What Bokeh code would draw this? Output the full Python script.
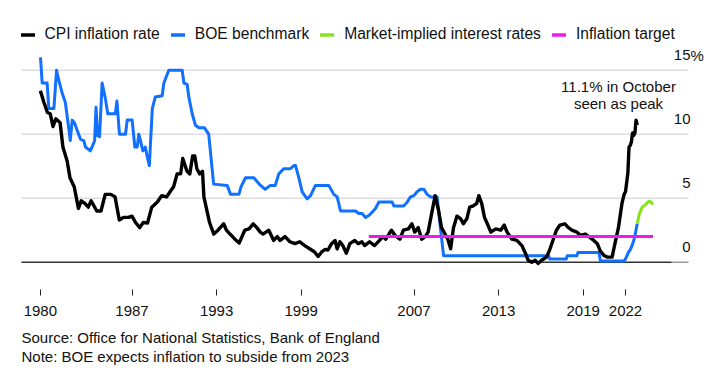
import math
from bokeh.plotting import figure
from bokeh.models import Range1d, FixedTicker, Legend, LegendItem, Title
from bokeh.core.properties import value
from bokeh.embed import file_html
from bokeh.resources import INLINE

# ---------------- data ----------------
cpi_years = [1980.5, 1980.75, 1981.0, 1981.2, 1981.4, 1981.6, 1981.9, 1982.1, 1982.4, 1982.6,
             1982.9, 1983.2, 1983.4, 1983.65, 1983.9, 1984.1, 1984.5, 1984.8, 1985.1, 1985.5,
             1985.8, 1986.1, 1986.4, 1986.75, 1987.0, 1987.25, 1987.55, 1987.8, 1988.1, 1988.4,
             1988.8, 1989.1, 1989.45, 1989.7, 1989.95, 1990.2, 1990.45, 1990.6, 1990.9, 1991.1,
             1991.3, 1991.45, 1991.6, 1991.8, 1992.0, 1992.1, 1992.5, 1992.8, 1993.1, 1993.5,
             1993.7, 1993.95, 1994.3, 1994.6, 1994.8, 1995.0, 1995.3, 1995.6, 1995.85, 1996.1,
             1996.3, 1996.7, 1997.05, 1997.3, 1997.5, 1997.85, 1998.2, 1998.55, 1998.9, 1999.25,
             1999.6, 1999.95, 2000.2, 2000.45, 2000.7, 2000.9, 2001.15, 2001.4, 2001.55, 2001.75,
             2001.95, 2002.2, 2002.45, 2002.8, 2003.05, 2003.3, 2003.5, 2003.85, 2004.2, 2004.55,
             2004.8, 2005.0, 2005.4, 2005.65, 2006.0, 2006.25, 2006.6, 2006.85, 2007.05, 2007.3,
             2007.55, 2007.8, 2008.0, 2008.25, 2008.5, 2008.75, 2008.95, 2009.2, 2009.4, 2009.6,
             2009.8, 2010.05, 2010.3, 2010.5, 2010.75, 2010.95, 2011.2, 2011.45, 2011.6, 2011.8,
             2012.0, 2012.2, 2012.45, 2012.8, 2013.15, 2013.4, 2013.6, 2013.95, 2014.3, 2014.65,
             2014.9, 2015.1, 2015.35, 2015.6, 2015.8, 2016.05, 2016.4, 2016.6, 2016.85, 2017.1,
             2017.35, 2017.7, 2017.95, 2018.2, 2018.55, 2018.8, 2019.15, 2019.4, 2019.75, 2020.0,
             2020.2, 2020.45, 2020.7, 2021.05, 2021.3, 2021.5, 2021.75, 2021.9, 2022.0, 2022.08,
             2022.17, 2022.25, 2022.33, 2022.42, 2022.5, 2022.58, 2022.67, 2022.75, 2022.83]
cpi_values = [13.4, 12.5, 11.7, 11.6, 10.6, 11.2, 10.9, 9.0, 7.9, 6.6,
              5.9, 4.2, 4.8, 4.6, 4.3, 4.8, 4.0, 4.0, 5.3, 5.3,
              5.1, 3.3, 3.5, 3.5, 3.6, 3.1, 2.7, 3.1, 3.05, 4.3,
              4.7, 5.2, 5.1, 5.5, 5.9, 6.9, 6.9, 8.1, 7.1, 6.9,
              8.3, 8.3, 7.3, 6.9, 7.1, 5.1, 3.1, 2.2, 2.5, 3.0,
              2.5, 2.2, 1.8, 1.5, 2.0, 2.5, 2.6, 3.0, 2.7, 2.35,
              2.2, 2.5, 1.7, 2.0, 1.7, 2.0, 1.6, 1.45, 1.6, 1.3,
              1.05, 0.8, 0.45, 0.8, 1.0, 0.95, 1.45, 1.7, 1.05, 1.6,
              1.3, 0.7, 1.45, 1.7, 1.45, 1.6, 1.3, 1.6, 1.3, 1.7,
              2.0, 1.8, 2.5, 2.1, 1.8, 2.5, 2.6, 3.0, 2.35, 2.7,
              1.8, 2.0, 2.35, 3.8, 5.2, 4.0, 2.7, 2.2, 1.8, 1.05,
              2.7, 3.6, 3.4, 3.0, 3.4, 4.3, 4.4, 4.6, 5.2, 4.6,
              3.5, 3.0, 2.35, 2.6, 2.5, 2.9, 2.35, 1.8, 1.7, 1.3,
              0.7, 0.15, 0.0, 0.15, -0.1, 0.15, 0.4, 0.9, 1.7, 2.5,
              2.9, 3.0, 2.7, 2.5, 2.35, 2.1, 2.2, 2.0, 1.7, 1.45,
              0.9, 0.55, 0.4, 0.4, 1.7, 2.7, 4.6, 5.3, 5.5, 6.2,
              7.0, 9.0, 9.1, 9.4, 10.1, 9.9, 10.1, 11.1, 10.7]

boe_years = [1980.51, 1980.63, 1980.98, 1981.10, 1981.46, 1981.65, 1981.81, 1982.05, 1982.27, 1982.51,
             1982.62, 1982.76, 1982.92, 1983.11, 1983.35, 1983.58, 1983.70, 1984.04, 1984.17, 1984.35,
             1984.45, 1984.56, 1984.70, 1984.88, 1985.11, 1985.28, 1985.82, 1985.93, 1986.11, 1986.54,
             1986.66, 1987.01, 1987.20, 1987.37, 1987.48, 1987.60, 1987.77, 1987.94, 1988.07, 1988.23,
             1988.44, 1988.65, 1989.14, 1989.26, 1989.61, 1990.56, 1990.68, 1990.91, 1991.03, 1991.27,
             1991.50, 1991.74, 1992.14, 1992.44, 1992.79, 1993.75, 1993.99, 1994.58, 1994.74, 1995.05,
             1995.64, 1996.11, 1996.45, 1996.81, 1997.16, 1997.41, 1997.76, 1998.23, 1998.48, 1998.60,
             1998.83, 1999.07, 1999.42, 1999.66, 2000.01, 2000.96, 2001.31, 2001.55, 2001.79, 2002.85,
             2003.09, 2003.32, 2003.56, 2003.80, 2004.03, 2004.27, 2004.51, 2005.45, 2005.57, 2006.28,
             2006.52, 2006.75, 2006.99, 2007.22, 2007.46, 2007.70, 2007.93, 2008.17, 2008.64, 2008.87,
             2009.10, 2016.55, 2016.62, 2017.80, 2017.87, 2018.55, 2018.62, 2020.12, 2020.22, 2021.90,
             2022.0, 2022.1, 2022.2, 2022.35, 2022.45, 2022.6, 2022.7, 2022.83]
boe_values = [16.0, 14.0, 14.0, 12.0, 12.0, 15.0, 14.2, 13.2, 12.5, 10.5,
              9.5, 11.1, 10.9, 10.3, 9.6, 9.5, 9.0, 8.7, 9.0, 9.5,
              12.1, 9.9, 9.8, 14.0, 12.8, 11.6, 11.6, 12.6, 10.0, 10.0,
              11.1, 11.1, 9.0, 9.0, 10.0, 9.5, 8.7, 9.0, 8.3, 7.55,
              12.0, 12.9, 13.0, 14.0, 15.0, 15.0, 14.0, 13.9, 12.9, 11.6,
              10.7, 10.5, 10.5, 10.0, 6.1, 6.0, 5.3, 5.3, 5.9, 6.6,
              6.6, 6.0, 5.7, 6.0, 6.0, 6.9, 7.3, 7.3, 7.55, 7.55,
              6.6, 5.5, 4.95, 5.2, 6.0, 6.0, 5.3, 5.1, 4.0, 4.0,
              3.8, 3.8, 3.5, 3.65, 3.9, 4.2, 4.7, 4.7, 4.4, 4.4,
              4.7, 5.1, 5.2, 5.5, 5.7, 5.7, 5.3, 5.1, 5.1, 2.7,
              0.5, 0.5, 0.25, 0.25, 0.5, 0.5, 0.75, 0.75, 0.1, 0.1,
              0.25, 0.5, 0.75, 1.0, 1.25, 1.75, 2.25, 3.0]

mkt_years = [2022.83, 2022.99, 2023.18, 2023.42, 2023.65, 2023.82, 2023.94]
mkt_values = [3.0, 3.8, 4.3, 4.5, 4.75, 4.7, 4.5]

target_years = [2003.8, 2023.95]
target_values = [2.0, 2.0]

x_tick_years = [cpi_years[0], 1987, 1993, 1999, 2007, 2013, 2019, 2022]
x_tick_labels = ["1980", "1987", "1993", "1999", "2007", "2013", "2019", "2022"]
y_ticks = [0, 5, 10, 15]
y_tick_labels = ["0", "5", "10", "15"]
y_unit = "%"

legend_labels = ["CPI inflation rate", "BOE benchmark", "Market-implied interest rates", "Inflation target"]
annotation_lines = ["11.1% in October", "seen as peak"]
source_text = "Source: Office for National Statistics, Bank of England"
note_text = "Note: BOE expects inflation to subside from 2023"

# ---------------- styles / geometry ----------------
C_CPI = "#000000"
C_BOE = "#1170ff"
C_MKT = "#86e31c"
C_TGT = "#ec1aec"
C_TEXT = "#111111"
C_GRID = "#dedede"
FONT = "Liberation Sans"

W, H = 726, 392
PX_YR = 14.1           # pixels per year
X_ANCHOR = 2022.0      # year at x=625
PX_UNIT = 12.8         # pixels per percentage point
FRAME_BOTTOM = 289
ZERO_Y = 261.7


def xyear(px):
    return X_ANCHOR + (px - 625) / PX_YR


x_start, x_end = xyear(0), xyear(W)
y_end = ZERO_Y / PX_UNIT
y_start = -(FRAME_BOTTOM - ZERO_Y) / PX_UNIT

p = figure(width=W, height=H, output_backend="svg", toolbar_location=None,
           x_range=Range1d(x_start, x_end), y_range=Range1d(y_start, y_end),
           min_border_left=0, min_border_right=0, min_border_top=0,
           min_border_bottom=H - FRAME_BOTTOM)
p.outline_line_color = None
p.background_fill_color = "white"
p.border_fill_color = "white"
p.xgrid.visible = False
p.ygrid.visible = False
p.yaxis.visible = False

ax = p.xaxis[0]
ax.ticker = FixedTicker(ticks=x_tick_years)
ax.major_label_overrides = {t: l for t, l in zip(x_tick_years, x_tick_labels)}
ax.axis_line_color = None
ax.major_tick_in = 0
ax.major_tick_out = 6
ax.major_tick_line_color = "#222222"
ax.major_tick_line_width = 1
ax.minor_tick_line_color = None
ax.major_label_text_font = FONT
ax.major_label_text_font_size = "15px"
ax.major_label_text_color = C_TEXT
ax.major_label_standoff = 10

# gridlines (drawn through the data scales)
gx0, gx1, gdark = xyear(21), xyear(688), xyear(671)
grid_vals = y_ticks[1:]
p.segment(x0=[gx0] * len(grid_vals), y0=grid_vals, x1=[gx1] * len(grid_vals), y1=grid_vals,
          line_color=C_GRID, line_width=1.5)
p.segment(x0=[gdark], y0=[y_ticks[0]], x1=[gx1], y1=[y_ticks[0]], line_color="#9a9a9a", line_width=1.5)
p.segment(x0=[gx0], y0=[y_ticks[0]], x1=[gdark], y1=[y_ticks[0]], line_color="#333333", line_width=1.5)

# series
p.line(boe_years, boe_values, line_color=C_BOE, line_width=3, line_join="round")
p.line(cpi_years, cpi_values, line_color=C_CPI, line_width=3.4, line_join="round")
p.line(mkt_years, mkt_values, line_color=C_MKT, line_width=3, line_join="round")
p.line(target_years, target_values, line_color=C_TGT, line_width=3)

# y tick labels (inside plot, above gridlines, right side)
lab_x = xyear(690)
p.text(x=[lab_x] * len(y_ticks), y=y_ticks, text=y_tick_labels, text_font=value(FONT),
       text_font_size="15px", text_color=C_TEXT, text_align="right", text_baseline="middle",
       y_offset=-15)
p.text(x=[lab_x], y=[y_ticks[-1]], text=[y_unit], text_font=value(FONT),
       text_font_size="15px", text_color=C_TEXT, text_align="left", text_baseline="middle",
       y_offset=-15)

# annotation near the peak
ann_x = xyear(618)
p.text(x=[ann_x, ann_x], y=[cpi_values[-2], cpi_values[-2]], text=annotation_lines,
       text_font=value(FONT), text_font_size="15px", text_color=C_TEXT,
       text_align="center", text_baseline="middle", y_offset=[-33.5, -17])

# legend with slanted stroke icons
legend_items = []
for lbl, col in zip(legend_labels, [C_CPI, C_BOE, C_MKT, C_TGT]):
    r = p.scatter(x=[float("nan")], y=[float("nan")], marker="dash", angle=-0.8,
                  line_color=col, line_width=3.5, fill_color=col)
    legend_items.append(LegendItem(label=lbl, renderers=[r]))
legend = Legend(items=legend_items, orientation="horizontal", location=(9.5, 237.5),
                glyph_width=35, glyph_height=35, label_standoff=-4, spacing=-2,
                padding=0, margin=0, border_line_color=None, background_fill_alpha=0,
                label_text_font=FONT, label_text_font_size="15.6px", label_text_color=C_TEXT)
p.add_layout(legend, "center")

# source / note below the axis (one two-line title)
p.add_layout(Title(text=source_text + "\n" + note_text, align="left", offset=21, standoff=16,
                   text_font=FONT, text_font_size="15px", text_font_style="normal",
                   text_color=C_TEXT, text_line_height=1.17), "below")

open("out.html", "w").write(file_html(p, INLINE))
